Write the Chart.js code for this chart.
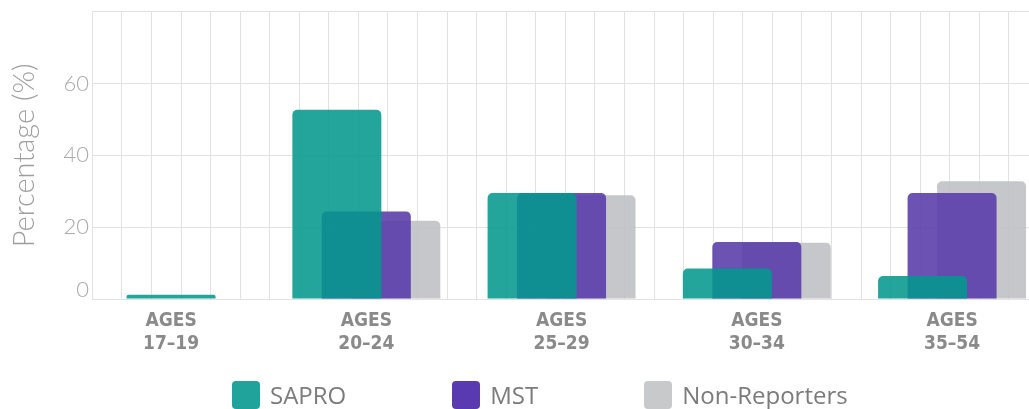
<!DOCTYPE html>
<html>
<head>
<meta charset="utf-8">
<title>Percentage by age group</title>
<script src="https://cdn.jsdelivr.net/npm/chart.js@4.4.1/dist/chart.umd.min.js"></script>
<style>
  body { margin: 0; background: #fff; }
  .wrap { position: relative; width: 1029px; height: 409px; }
  #legend {
    position: absolute; left: 232px; top: 381px;
    display: flex; align-items: center; gap: 106px;
    font: 24px/28px 'Open Sans', sans-serif; color: #7b7b7b;
  }
  #legend .item { display: flex; align-items: center; }
  #legend .box { width: 28px; height: 28px; border-radius: 4px; margin-right: 10px; }
</style>
</head>
<body>
<div class="wrap">
  <canvas id="ageChart"></canvas>
  <div id="legend"></div>
</div>
<script>
// Age groups and percentages per group
const ageGroups = ['17–19', '20–24', '25–29', '30–34', '35–54'];
const sapro = [1.2, 52.7, 29.5, 8.5, 6.4];
const mst = [null, 24.4, 29.5, 15.9, 29.5];
const nonReporters = [null, 21.8, 28.9, 15.7, 32.8];
const yLabels = [0, 20, 40, 60];

const toPoints = vals => vals.map((v, i) => ({ x: i, y: v }));
const gridColor = '#e2e2e2';

Chart.defaults.font.family = 'Lato, sans-serif';

const ctx = document.getElementById('ageChart').getContext('2d');
const chart = new Chart(ctx, {
  type: 'bar',
  data: {
    datasets: [
      { label: 'SAPRO', data: toPoints(sapro), backgroundColor: 'rgba(4, 152, 142, 0.88)', borderColor: '#20a39a' },
      { label: 'MST', data: toPoints(mst), backgroundColor: 'rgba(86, 58, 168, 0.88)', borderColor: '#5a3ab0' },
      { label: 'Non-Reporters', data: toPoints(nonReporters), backgroundColor: 'rgba(192, 193, 196, 0.9)', borderColor: '#c8c9cb' }
    ]
  },
  options: {
    responsive: true,
    maintainAspectRatio: false,
    animation: false,
    layout: { padding: { top: 11, bottom: 50 } },
    datasets: {
      bar: {
        skipNull: true,
        categoryPercentage: 0.453,
        barPercentage: 3.1,
        maxBarThickness: 89,
        borderWidth: 0,
        borderRadius: 5
      }
    },
    plugins: {
      legend: { display: false },
      tooltip: { enabled: false }
    },
    scales: {
      x: {
        type: 'linear',
        min: -0.405,
        max: 4.394,
        offset: false,
        grid: { display: false },
        border: { display: false },
        afterBuildTicks: s => { s.ticks = ageGroups.map((_, i) => ({ value: i })); },
        afterFit: s => { s.height = 60; },
        ticks: {
          callback: v => ['AGES', ageGroups[v]],
          autoSkip: false,
          maxRotation: 0,
          padding: 3,
          color: '#8a8a8a',
          font: { family: "'DejaVu Sans Condensed', sans-serif", size: 19, weight: 'bold', lineHeight: 1.2 }
        }
      },
      // fine vertical grid, independent of the age groups
      xGrid: {
        type: 'linear',
        position: 'top',
        min: 0,
        max: 30.67,
        afterBuildTicks: s => {
          const t = [];
          for (let i = 0; i <= 30; i++) t.push({ value: i });
          s.ticks = t;
        },
        ticks: { display: false },
        grid: { color: gridColor, drawTicks: false },
        border: { display: false }
      },
      y: {
        min: 0,
        max: 80,
        afterFit: s => { s.width = 92; },
        grid: { color: gridColor, drawTicks: false },
        border: { display: false },
        ticks: {
          stepSize: 10,
          padding: 3,
          color: '#a9a9a9',
          font: { size: 22, weight: 300, lineHeight: 0.8 },
          callback: v => {
            if (!yLabels.includes(v)) return '';
            return v === 0 ? ['0', ''] : String(v);
          }
        },
        title: {
          display: true,
          text: 'Percentage (%)',
          color: '#9e9e9e',
          font: { size: 29, weight: 300 },
          padding: { top: 7, bottom: 0 }
        }
      }
    }
  }
});

// HTML legend built from the datasets
const legendEl = document.getElementById('legend');
chart.data.datasets.forEach(ds => {
  const item = document.createElement('div');
  item.className = 'item';
  const box = document.createElement('span');
  box.className = 'box';
  box.style.background = ds.borderColor;
  const text = document.createElement('span');
  text.textContent = ds.label;
  item.appendChild(box);
  item.appendChild(text);
  legendEl.appendChild(item);
});
</script>
</body>
</html>
